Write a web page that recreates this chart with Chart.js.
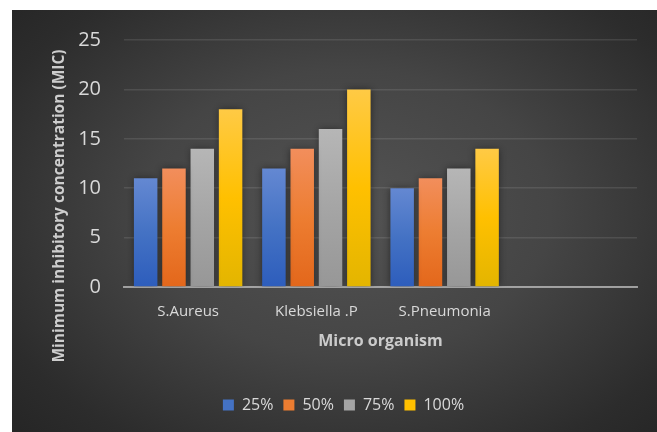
<!DOCTYPE html>
<html>
<head>
<meta charset="utf-8">
<script src="https://cdn.jsdelivr.net/npm/chart.js@4/dist/chart.umd.min.js"></script>
<style>
  html, body { margin: 0; padding: 0; background: #ffffff; }
  #panel {
    position: absolute;
    left: 12px;
    top: 10px;
    width: 645px;
    height: 422px;
    background: radial-gradient(ellipse 70% 75% at 52% 48%, #535353 0%, #454545 45%, #2c2c2c 85%, #262626 100%);
  }
  #mic-chart { display: block; }
</style>
</head>
<body>
<div id="panel"><canvas id="mic-chart"></canvas></div>
<script>
/* ===================== DATA ===================== */

const organisms = ["S.Aureus", "Klebsiella .P", "S.Pneumonia", ""];
const seriesNames = ["25%", "50%", "75%", "100%"];
const mic25 = [11, 12, 10, null];
const mic50 = [12, 14, 11, null];
const mic75 = [14, 16, 12, null];
const mic100 = [18, 20, 14, null];
const yTicks = [0, 5, 10, 15, 20, 25];

/* ===================== COLORS ===================== */

// light top / base / dark bottom for each series
const SERIES_COLORS = [
  ["#6488d2", "#4472c4", "#2d5dbc"], // blue
  ["#f28e5c", "#ed7d31", "#e3671b"], // orange
  ["#b6b6b6", "#a5a5a5", "#979797"], // gray
  ["#ffca45", "#ffc000", "#e3b500"], // gold
];

const TEXT = "#d9d9d9";
const FONT = "'Open Sans', 'DejaVu Sans', sans-serif";

/* ===================== HELPERS ===================== */

// vertical gradient that runs from the top of each bar down to zero
function barFill([light, base, dark]) {
  return (ctx) => {
    const chart = ctx.chart;
    if (!chart.chartArea || ctx.type !== "data" || !ctx.parsed) return base;
    const y = chart.scales.y;
    const top = y.getPixelForValue(ctx.parsed.y);
    const bottom = y.getPixelForValue(0);
    if (!isFinite(top) || top === bottom) return base;
    const g = chart.ctx.createLinearGradient(0, top, 0, bottom);
    g.addColorStop(0, light);
    g.addColorStop(0.5, base);
    g.addColorStop(1, dark);
    return g;
  };
}

const barShadow = {
  id: "barShadow",
  beforeDatasetsDraw(chart) {
    const c = chart.ctx;
    c.save();
    c.shadowColor = "rgba(0, 0, 0, 0.45)";
    c.shadowBlur = 7;
  },
  afterDatasetsDraw(chart) {
    chart.ctx.restore();
  },
};

// nudge the legend row right a little
const legendShift = {
  id: "legendShift",
  afterLayout(chart) {
    if (!chart.legend) return;
    chart.legend.left += 19;
    chart.legend.right += 19;
  },
};

// y axis title, set a little lower than the plot centre
const yTitle = {
  id: "yTitle",
  afterDraw(chart) {
    const c = chart.ctx;
    c.save();
    c.translate(48, 196);
    c.rotate(-Math.PI / 2);
    c.font = "bold 15.5px " + FONT;
    c.fillStyle = "#cdcdcd";
    c.textAlign = "center";
    c.textBaseline = "middle";
    c.fillText("Minimum inhibitory concentration (MIC)", 0, 0);
    c.restore();
  },
};

/* ===================== CHART ===================== */

const values = [mic25, mic50, mic75, mic100];

new Chart(document.getElementById("mic-chart"), {
  type: "bar",
  data: {
    labels: organisms,
    datasets: seriesNames.map((name, i) => ({
      label: name,
      data: values[i],
      backgroundColor: barFill(SERIES_COLORS[i]),
      borderWidth: 0,
      categoryPercentage: 0.883,
      barPercentage: 0.83,
    })),
  },
  options: {
    responsive: true,
    maintainAspectRatio: false,
    animation: false,
    layout: { padding: { top: 30, right: 20, left: 0, bottom: 9 } },
    plugins: {
      tooltip: { enabled: false },
      legend: {
        position: "bottom",
        labels: {
          boxWidth: 11,
          boxHeight: 11,
          padding: 10,
          color: TEXT,
          font: { family: FONT, size: 16 },
          generateLabels: (chart) =>
            chart.data.datasets.map((ds, i) => ({
              text: ds.label,
              fillStyle: SERIES_COLORS[i][1],
              strokeStyle: SERIES_COLORS[i][1],
              lineWidth: 0,
              fontColor: TEXT,
              datasetIndex: i,
            })),
        },
      },
    },
    scales: {
      x: {
        z: 1,
        afterFit: (scale) => {
          scale.height = 100;
        },
        grid: { display: false, drawTicks: false },
        border: { display: true, color: "rgba(190, 190, 190, 0.75)", width: 2 },
        ticks: {
          color: TEXT,
          padding: 16,
          font: { family: FONT, size: 15 },
          maxRotation: 0,
        },
        title: {
          display: true,
          text: "Micro organism",
          color: "#cbcbcb",
          padding: { top: 0, bottom: 36 },
          font: { family: FONT, size: 16, weight: "bold" },
        },
      },
      y: {
        min: 0,
        max: 25,
        afterBuildTicks: (scale) => {
          scale.ticks = yTicks.map((v) => ({ value: v }));
        },
        afterFit: (scale) => {
          scale.width = 112;
          // tick padding is horizontal here, keep it out of the top/bottom margins
          scale.paddingTop = 12;
          scale.paddingBottom = 12;
        },
        grid: { color: "rgba(255, 255, 255, 0.1)", lineWidth: 1.5, drawTicks: false },
        border: { display: false },
        ticks: {
          color: TEXT,
          padding: 23,
          font: { family: FONT, size: 20 },
        },
      },
    },
  },
  plugins: [barShadow, legendShift, yTitle],
});
</script>
</body>
</html>
